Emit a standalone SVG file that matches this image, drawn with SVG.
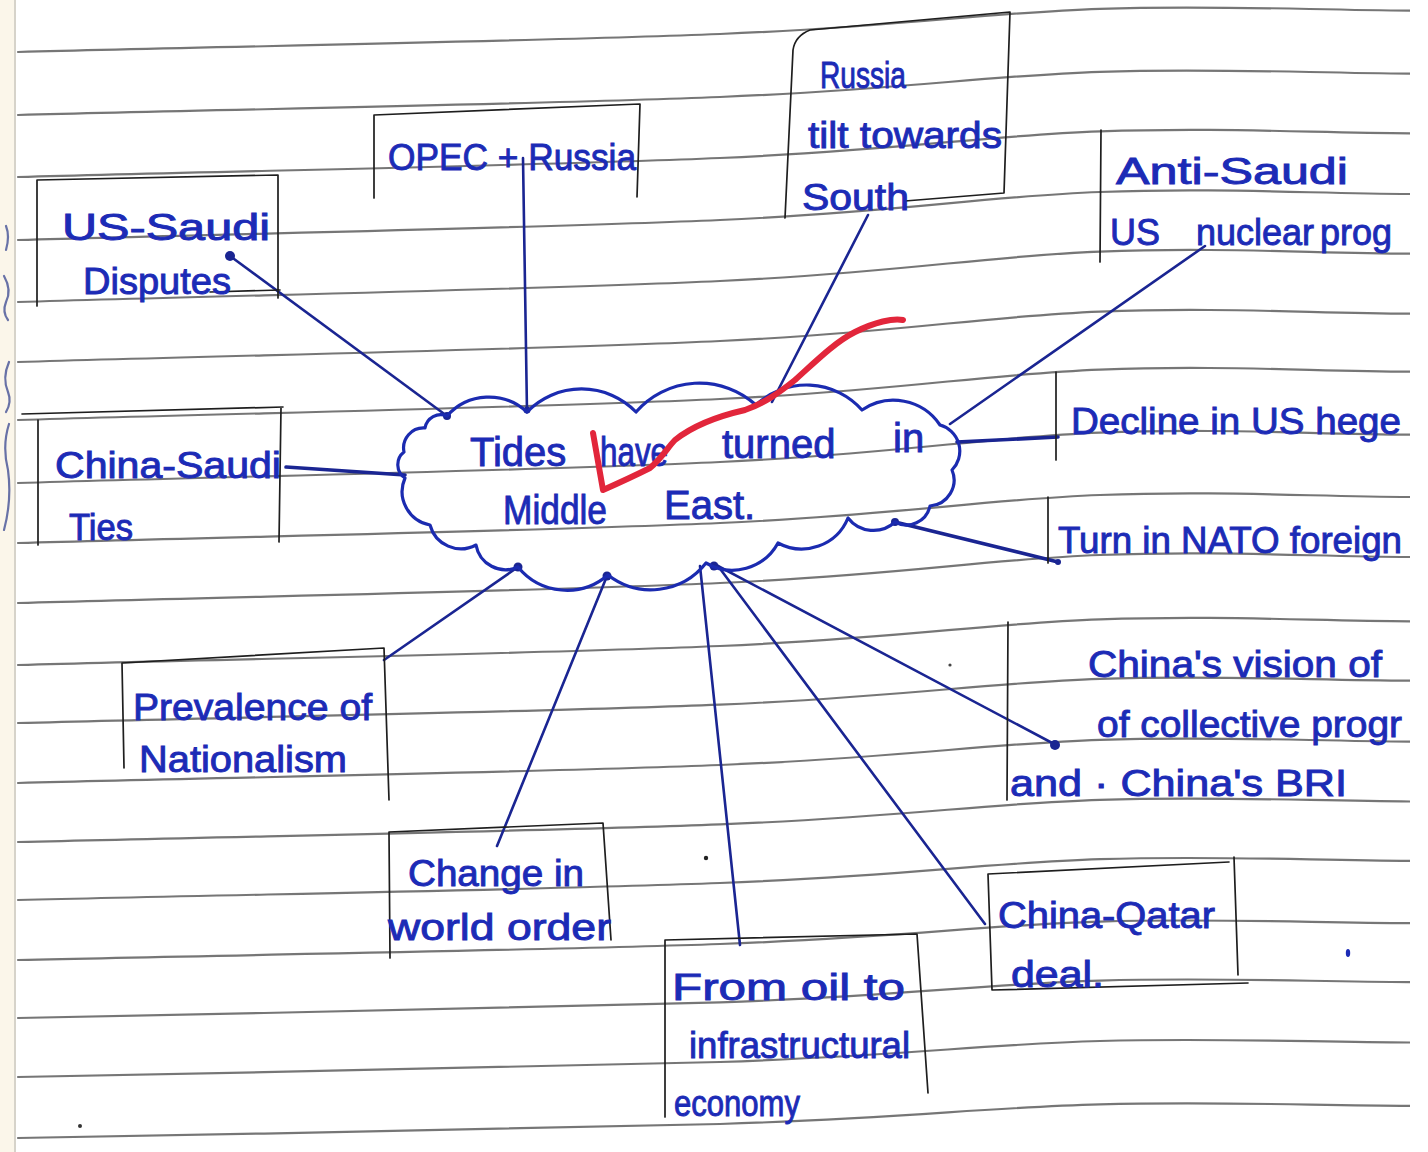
<svg xmlns="http://www.w3.org/2000/svg" width="1428" height="1152" viewBox="0 0 1428 1152">
  <defs>
    <style>
      .rule { fill: none; stroke: #5e5e5e; stroke-width: 2.2; stroke-linecap: round; opacity: 0.85; }
      .box { fill: none; stroke: #1e1e1e; stroke-width: 1.7; stroke-linecap: round; stroke-linejoin: round; }
      .conn { fill: none; stroke: #1a2592; stroke-width: 2.6; stroke-linecap: round; }
      .conn-thick { stroke-width: 3.6; }
      .cloud { fill: none; stroke: #1b2bb0; stroke-width: 3.2; stroke-linejoin: round; }
      .dot { fill: #1a2592; }
      .ink { font-family: "Liberation Sans", "DejaVu Sans", sans-serif; font-size: 36px; fill: #1c2bb6; stroke: #1c2bb6; stroke-width: 0.9; }
      .ink-big { font-size: 40px; }
      .check { fill: none; stroke: #e2263b; stroke-width: 6; stroke-linecap: round; stroke-linejoin: round; }
    </style>
    <clipPath id="page">
      <rect x="0" y="0" width="1410" height="1152"/>
    </clipPath>
  </defs>

  <rect x="0" y="0" width="1428" height="1152" fill="#ffffff"/>

  <g clip-path="url(#page)">
    <!-- binding edge of the notebook page -->
    <rect x="0" y="0" width="14" height="1152" fill="#fbf6ea"/>
    <line x1="15" y1="0" x2="15" y2="1152" stroke="#c9c4b8" stroke-width="1.5"/>
    <g fill="none" stroke="#2a3a8a" stroke-width="2.2" stroke-linecap="round" opacity="0.7">
      <path d="M6,226 Q10,236 6,250"/>
      <path d="M4,276 Q12,290 6,302 Q2,312 8,320"/>
      <path d="M9,362 Q2,378 8,392 Q12,402 6,412"/>
      <path d="M9,424 Q2,446 8,470 Q12,500 4,530"/>
    </g>

    <!-- ruled lines: the page bends, so each line drops towards the right and flattens out -->
    <g id="ruling">
      <path class="rule" d="M18,52 C252,46 540,41.2 720,34 C900,26.8 985,12.7 1100,8.8 C1215,4.9 1307,10 1410,10.6"/>
      <path class="rule" d="M18,115 C252,109 540,104.2 720,97 C900,89.8 985,75.7 1100,71.8 C1215,67.9 1307,73 1410,73.6"/>
      <path class="rule" d="M18,177 C252,170.6 540,165.6 720,158 C900,150.4 985,135.5 1100,131.4 C1215,127.3 1307,132.6 1410,133.3"/>
      <path class="rule" d="M18,240 C252,233.3 540,228 720,220 C900,212 985,196.3 1100,192 C1215,187.7 1307,193.3 1410,194"/>
      <path class="rule" d="M18,302 C252,295 540,289.4 720,281 C900,272.6 985,256.1 1100,251.6 C1215,247.1 1307,253 1410,253.7"/>
      <path class="rule" d="M18,362 C252,355 540,349.4 720,341 C900,332.6 985,316.1 1100,311.6 C1215,307.1 1307,313 1410,313.7"/>
      <path class="rule" d="M18,420 C252,413 540,407.4 720,399 C900,390.6 985,374.1 1100,369.6 C1215,365.1 1307,371 1410,371.7"/>
      <path class="rule" d="M18,483 C252,476 540,470.4 720,462 C900,453.6 985,437.1 1100,432.6 C1215,428.1 1307,434 1410,434.7"/>
      <path class="rule" d="M18,543 C252,536.3 540,531 720,523 C900,515 985,499.3 1100,495 C1215,490.7 1307,496.3 1410,497"/>
      <path class="rule" d="M18,603 C252,596.3 540,591 720,583 C900,575 985,559.3 1100,555 C1215,550.7 1307,556.3 1410,557"/>
      <path class="rule" d="M18,665 C252,658.6 540,653.6 720,646 C900,638.4 985,623.5 1100,619.4 C1215,615.3 1307,620.6 1410,621.3"/>
      <path class="rule" d="M18,723 C252,716.8 540,712 720,704.6 C900,697.2 985,682.8 1100,678.8 C1215,674.9 1307,680 1410,680.7"/>
      <path class="rule" d="M18,783 C252,777 540,772.2 720,765 C900,757.8 985,743.7 1100,739.8 C1215,735.9 1307,741 1410,741.6"/>
      <path class="rule" d="M18,842 C252,836.1 540,831.4 720,824.4 C900,817.4 985,803.5 1100,799.8 C1215,796 1307,800.9 1410,801.5"/>
      <path class="rule" d="M18,900 C252,894.3 540,889.8 720,883 C900,876.2 985,862.9 1100,859.2 C1215,855.5 1307,860.3 1410,860.9"/>
      <path class="rule" d="M18,960 C252,954.6 540,950.4 720,944 C900,937.6 985,925 1100,921.6 C1215,918.2 1307,922.6 1410,923.2"/>
      <path class="rule" d="M18,1018 C252,1012.8 540,1008.6 720,1002.4 C900,996.2 985,983.9 1100,980.6 C1215,977.2 1307,981.6 1410,982.1"/>
      <path class="rule" d="M18,1077 C252,1072 540,1068 720,1062 C900,1056 985,1044.2 1100,1041 C1215,1037.8 1307,1042 1410,1042.5"/>
      <path class="rule" d="M18,1138 C252,1133.3 540,1129.6 720,1124 C900,1118.4 985,1107.4 1100,1104.4 C1215,1101.4 1307,1105.3 1410,1105.8"/>
    </g>

    <!-- stray marks on the page -->
    <circle cx="706" cy="858" r="2.2" fill="#222"/>
    <ellipse cx="1348" cy="953" rx="2.2" ry="4" fill="#1c2bb6"/>
    <circle cx="950" cy="665" r="1.6" fill="#444"/>
    <circle cx="80" cy="1126" r="2" fill="#333"/>

    <!-- connectors -->
    <g id="connectors">
      <path class="conn" d="M230,256 L447,416"/>
      <path class="conn" d="M523,158 L527,412"/>
      <path class="conn" d="M868,215 L772,402"/>
      <path class="conn" d="M1205,246 L950,424"/>
      <path class="conn conn-thick" d="M957,442 L1058,437"/>
      <path class="conn conn-thick" d="M895,522 L1058,562"/>
      <path class="conn conn-thick" d="M286,467 L405,475"/>
      <path class="conn" d="M384,660 L518,567"/>
      <path class="conn" d="M497,846 L607,576"/>
      <path class="conn" d="M700,566 L740,945"/>
      <path class="conn" d="M718,566 L985,924"/>
      <path class="conn" d="M718,566 L1056,745"/>
      <circle class="dot" cx="230" cy="256" r="5"/>
      <circle class="dot" cx="447" cy="416" r="4"/>
      <circle class="dot" cx="527" cy="410" r="3.5"/>
      <circle class="dot" cx="518" cy="567" r="4.5"/>
      <circle class="dot" cx="607" cy="576" r="4.5"/>
      <circle class="dot" cx="714" cy="566" r="4.5"/>
      <circle class="dot" cx="895" cy="522" r="4"/>
      <circle class="dot" cx="1055" cy="745" r="5"/>
      <circle class="dot" cx="1058" cy="562" r="3"/>
    </g>

    <!-- central cloud -->
    <g id="node-centre">
      <path class="cloud" d="M447,416 A56,56 0 0 1 527,412 A76,76 0 0 1 636,412 A84,84 0 0 1 756,405 A74,74 0 0 1 862,410 A56,56 0 0 1 940,425 A27,27 0 0 1 952,470 A26,26 0 0 1 930,506 A24,24 0 0 1 895,522 A32,32 0 0 1 848,518 A50,50 0 0 1 778,543 A52,52 0 0 1 706,563 A70,70 0 0 1 608,575 A63,63 0 0 1 518,567 A30,30 0 0 1 476,545 A32,32 0 0 1 430,525 A34,34 0 0 1 405,478 A16,16 0 0 1 404,452 A20,20 0 0 1 425,428 A16,16 0 0 1 447,416 Z"/>
      <text class="ink ink-big" y="466"><tspan x="470">Tides</tspan> <tspan x="600" textLength="68" lengthAdjust="spacingAndGlyphs">have</tspan> <tspan x="722" y="458">turned</tspan> <tspan x="893" y="452">in</tspan></text>
      <text class="ink ink-big" y="524"><tspan x="503" textLength="104" lengthAdjust="spacingAndGlyphs">Middle</tspan> <tspan x="664" y="519">East.</tspan></text>
    </g>

    <g id="node-us-saudi">
      <path class="box" d="M37,306 L37,180 L278,175 L278,298 M210,292 L280,290"/>
      <text class="ink" x="62" y="240" textLength="208" lengthAdjust="spacingAndGlyphs">US-Saudi</text>
      <text class="ink" x="83" y="294" textLength="148" lengthAdjust="spacingAndGlyphs">Disputes</text>
    </g>

    <g id="node-opec">
      <path class="box" d="M374,198 L374,115 L640,104 L637,197"/>
      <text class="ink" x="388" y="170" textLength="248" lengthAdjust="spacingAndGlyphs">OPEC + Russia</text>
    </g>

    <g id="node-russia">
      <path class="box" d="M785,218 L793,50 Q795,36 810,30 L1010,12 L1004,193 L905,201"/>
      <text class="ink" x="820" y="88" textLength="86" lengthAdjust="spacingAndGlyphs">Russia</text>
      <text class="ink" x="808" y="148" textLength="194" lengthAdjust="spacingAndGlyphs">tilt towards</text>
      <text class="ink" x="802" y="210" textLength="107" lengthAdjust="spacingAndGlyphs">South</text>
    </g>

    <g id="node-anti-saudi">
      <path class="box" d="M1100,262 L1101,130"/>
      <text class="ink" x="1116" y="184" textLength="232" lengthAdjust="spacingAndGlyphs">Anti-Saudi</text>
      <text class="ink" y="245"><tspan x="1110">US</tspan> <tspan x="1196">nuclear</tspan> <tspan x="1320">prog</tspan></text>
    </g>

    <g id="node-decline">
      <path class="box" d="M1056,372 L1056,460"/>
      <text class="ink" x="1071" y="434" textLength="330" lengthAdjust="spacingAndGlyphs">Decline  in  US  hege</text>
    </g>

    <g id="node-nato">
      <path class="box" d="M1048,497 L1048,563"/>
      <text class="ink" x="1058" y="553" textLength="344" lengthAdjust="spacingAndGlyphs">Turn  in  NATO foreign</text>
    </g>

    <g id="node-china-saudi">
      <path class="box" d="M38,545 L38,420 M22,414 L283,407 M281,408 L279,542"/>
      <text class="ink" x="55" y="478" textLength="226" lengthAdjust="spacingAndGlyphs">China-Saudi</text>
      <text class="ink" x="69" y="540" textLength="64" lengthAdjust="spacingAndGlyphs">Ties</text>
    </g>

    <g id="node-nationalism">
      <path class="box" d="M124,768 L122,663 L384,648 L389,800"/>
      <text class="ink" x="133" y="720" textLength="239" lengthAdjust="spacingAndGlyphs">Prevalence of</text>
      <text class="ink" x="139" y="772" textLength="208" lengthAdjust="spacingAndGlyphs">Nationalism</text>
    </g>

    <g id="node-world-order">
      <path class="box" d="M390,958 L389,832 L603,823 L611,940"/>
      <text class="ink" x="408" y="886" textLength="176" lengthAdjust="spacingAndGlyphs">Change in</text>
      <text class="ink" x="388" y="940" textLength="223" lengthAdjust="spacingAndGlyphs">world order</text>
    </g>

    <g id="node-infrastructure">
      <path class="box" d="M665,1117 L665,940 L917,934 L928,1093"/>
      <text class="ink" x="672" y="1000" textLength="233" lengthAdjust="spacingAndGlyphs">From oil to</text>
      <text class="ink" x="689" y="1058" textLength="221" lengthAdjust="spacingAndGlyphs">infrastructural</text>
      <text class="ink" x="674" y="1116" textLength="126" lengthAdjust="spacingAndGlyphs">economy</text>
    </g>

    <g id="node-qatar">
      <path class="box" d="M992,990 L988,874 L1229,862 M1234,857 L1238,975 M992,990 L1248,983"/>
      <text class="ink" x="998" y="928" textLength="217" lengthAdjust="spacingAndGlyphs">China-Qatar</text>
      <text class="ink" x="1011" y="987" textLength="93" lengthAdjust="spacingAndGlyphs">deal.</text>
    </g>

    <g id="node-bri">
      <path class="box" d="M1008,622 L1007,800"/>
      <text class="ink" x="1088" y="677" textLength="294" lengthAdjust="spacingAndGlyphs">China's vision of</text>
      <text class="ink" x="1097" y="737" textLength="305" lengthAdjust="spacingAndGlyphs">of  collective progr</text>
      <text class="ink" x="1010" y="796" textLength="337" lengthAdjust="spacingAndGlyphs">and · China's BRI</text>
    </g>

    <!-- red tick over the centre -->
    <path class="check" d="M593,433 L603,490 Q630,478 650,468 C662,458 668,447 675,440 C690,428 710,418 745,410 C765,403 780,392 795,380 C815,362 835,342 855,332 C875,322 893,318 903,320"/>
  </g>
</svg>
